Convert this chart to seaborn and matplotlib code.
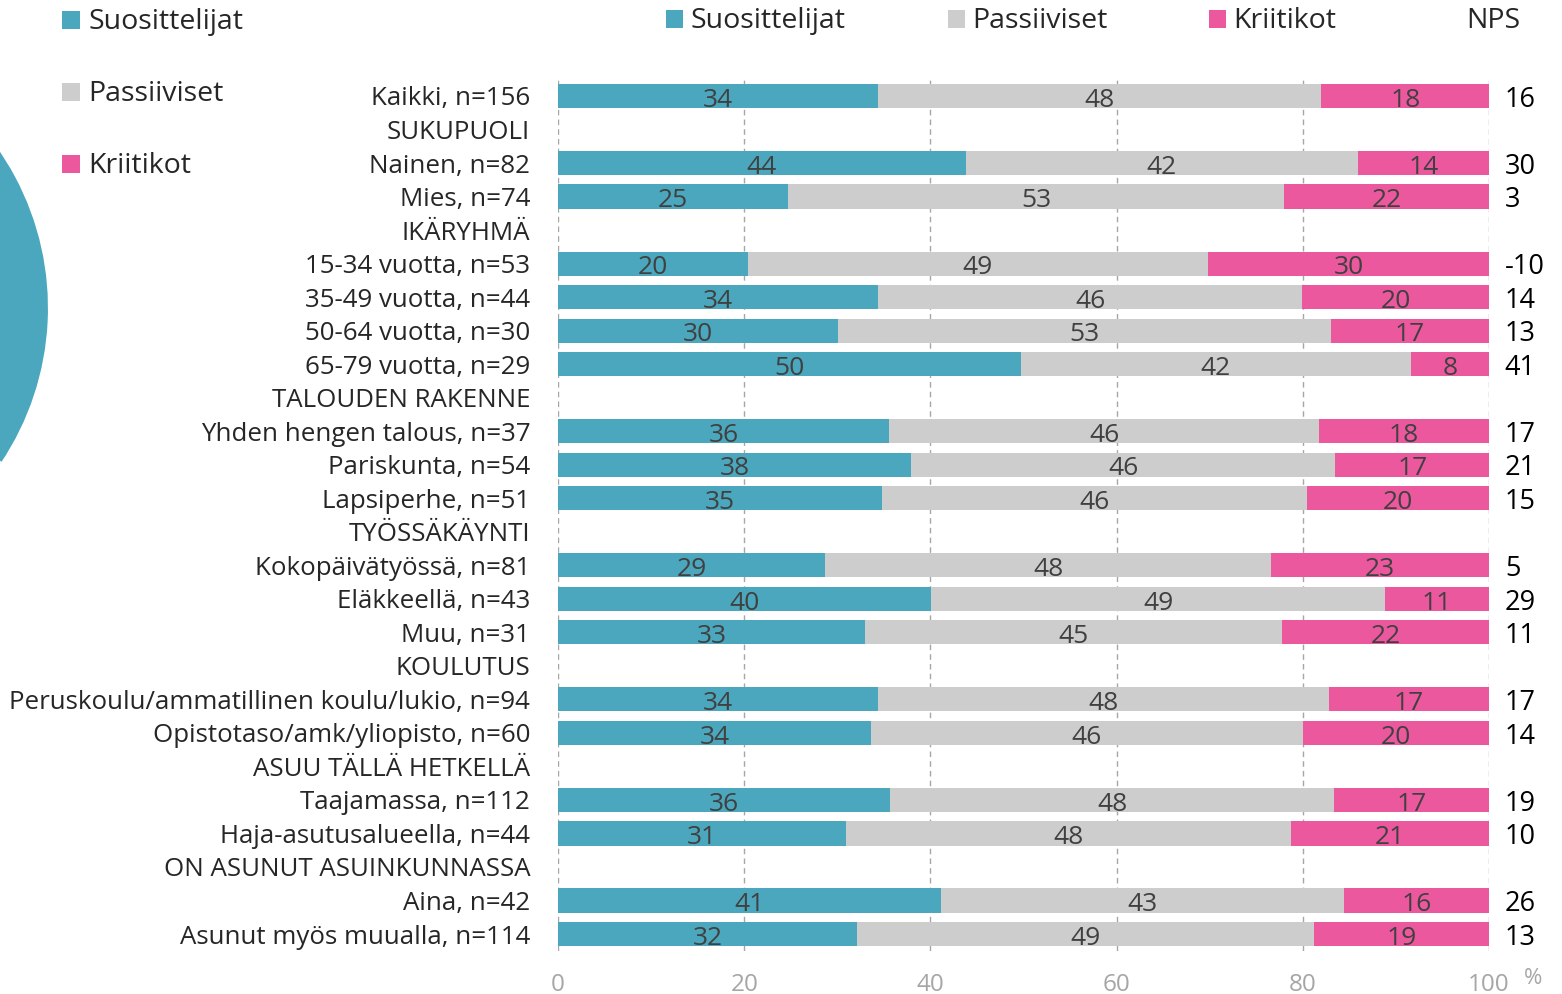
import numpy as np
import pandas as pd
import matplotlib
matplotlib.use("Agg")
import matplotlib.pyplot as plt
import seaborn as sns
from matplotlib.patches import Rectangle

# ---------------- data ----------------
row_labels = ["Kaikki, n=156", "SUKUPUOLI", "Nainen, n=82", "Mies, n=74", "IKÄRYHMÄ",
              "15-34 vuotta, n=53", "35-49 vuotta, n=44", "50-64 vuotta, n=30", "65-79 vuotta, n=29",
              "TALOUDEN RAKENNE", "Yhden hengen talous, n=37", "Pariskunta, n=54", "Lapsiperhe, n=51",
              "TYÖSSÄKÄYNTI", "Kokopäivätyössä, n=81", "Eläkkeellä, n=43", "Muu, n=31",
              "KOULUTUS", "Peruskoulu/ammatillinen koulu/lukio, n=94", "Opistotaso/amk/yliopisto, n=60",
              "ASUU TÄLLÄ HETKELLÄ", "Taajamassa, n=112", "Haja-asutusalueella, n=44",
              "ON ASUNUT ASUINKUNNASSA", "Aina, n=42", "Asunut myös muualla, n=114"]
N = np.nan
suosittelijat = [34.4, N, 43.8, 24.7, N, 20.4, 34.4, 30.1, 49.7, N, 35.6, 37.9, 34.8, N,
                 28.7, 40.1, 33.0, N, 34.4, 33.6, N, 35.7, 30.9, N, 41.1, 32.1]
passiiviset = [47.6, N, 42.1, 53.3, N, 49.4, 45.5, 52.9, 41.9, N, 46.1, 45.6, 45.7, N,
               47.9, 48.7, 44.8, N, 48.4, 46.4, N, 47.7, 47.8, N, 43.3, 49.1]
kriitikot = [18.0, N, 14.1, 22.0, N, 30.2, 20.1, 17.0, 8.4, N, 18.3, 16.5, 19.5, N,
             23.4, 11.2, 22.2, N, 17.2, 20.0, N, 16.6, 21.3, N, 15.6, 18.8]
lab_suos = [34, N, 44, 25, N, 20, 34, 30, 50, N, 36, 38, 35, N, 29, 40, 33, N, 34, 34, N, 36, 31, N, 41, 32]
lab_pass = [48, N, 42, 53, N, 49, 46, 53, 42, N, 46, 46, 46, N, 48, 49, 45, N, 48, 46, N, 48, 48, N, 43, 49]
lab_krit = [18, N, 14, 22, N, 30, 20, 17, 8, N, 18, 17, 20, N, 23, 11, 22, N, 17, 20, N, 17, 21, N, 16, 19]
nps = [16, N, 30, 3, N, -10, 14, 13, 41, N, 17, 21, 15, N, 5, 29, 11, N, 17, 14, N, 19, 10, N, 26, 13]
x_ticks = [0, 20, 40, 60, 80, 100]
series_names = ["Suosittelijat", "Passiiviset", "Kriitikot"]

TEAL = "#4BA7BD"
GREY = "#CDCDCD"
PINK = "#EC589E"
colors = [TEAL, GREY, PINK]

# ---------------- style ----------------
sns.set_theme(style="white")
plt.rcParams["font.family"] = ["Open Sans", "DejaVu Sans"]

W, H = 1562, 994
fig = plt.figure(figsize=(W / 100, H / 100), dpi=100)
ax = fig.add_axes([558 / W, 1 - 950.8 / H, 931 / W, (950.8 - 79.2) / H])

df = pd.DataFrame({"label": row_labels, "s": suosittelijat, "p": passiiviset, "k": kriitikot})
bars = df.dropna(subset=["s"]).copy()
bars["c1"] = bars["s"]
bars["c2"] = bars["s"] + bars["p"]
bars["c3"] = bars["s"] + bars["p"] + bars["k"]

for col, colr in [("c3", PINK), ("c2", GREY), ("c1", TEAL)]:
    sns.barplot(data=bars, x=col, y="label", order=row_labels, color=colr, saturation=1,
                width=0.72, orient="h", errorbar=None, linewidth=0, ax=ax, zorder=2)

ax.set_xlim(0, 100)
ax.set_ylim(len(row_labels) - 0.5, -0.5)
ax.set_xticks(x_ticks)
ax.set_xticklabels([str(t) for t in x_ticks])
ax.grid(axis="x", linestyle=(0, (4, 3)), color="#A6A6A6", linewidth=1, zorder=0)
ax.grid(axis="y", visible=False)
ax.set_axisbelow(True)
for sp in ax.spines.values():
    sp.set_visible(False)
ax.set_xlabel("")
ax.set_ylabel("")
ax.tick_params(axis="x", length=0, pad=16, labelsize=17.5, labelcolor="#A6A6A6")
ax.tick_params(axis="y", length=0, pad=20, labelsize=18.6, labelcolor="#262626")

# value labels
for i in range(len(row_labels)):
    if np.isnan(suosittelijat[i]):
        continue
    starts = [0, suosittelijat[i], suosittelijat[i] + passiiviset[i]]
    widths = [suosittelijat[i], passiiviset[i], kriitikot[i]]
    labs = [lab_suos[i], lab_pass[i], lab_krit[i]]
    for st, w, lb in zip(starts, widths, labs):
        ax.text(st + w / 2, i + 0.32, f"{int(lb)}", ha="center", va="baseline",
                fontsize=19, color="#404040", zorder=5)
    ax.text(101.7, i + 0.32, f"{int(nps[i])}", ha="left", va="baseline", fontsize=19.5,
            color="black", clip_on=False)

# ---------------- overlay (pie, legends) ----------------
ov = fig.add_axes([0, 0, 1, 1], zorder=3)
ov.patch.set_alpha(0)
ov.pie([suosittelijat[0], passiiviset[0], kriitikot[0]], colors=colors,
       center=(-230, H - 308), radius=279, startangle=90, counterclock=False,
       wedgeprops=dict(edgecolor="white", linewidth=1.5))
ov.set_xlim(0, W)
ov.set_ylim(0, H)
ov.set_aspect("auto")
ov.axis("off")

# left legend
for k, (name, c) in enumerate(zip(series_names, colors)):
    yc = 20 + k * 72
    ov.add_patch(Rectangle((62, H - yc - 9), 18, 18, color=c, lw=0))
    ov.text(88, H - yc - 2, name, ha="left", va="center", fontsize=20.5, color="#262626")

# top legend
for name, c, xs in zip(series_names, colors, [666, 948, 1209]):
    ov.add_patch(Rectangle((xs, H - 28), 17, 18, color=c, lw=0))
    ov.text(xs + 24, H - 21, name, ha="left", va="center", fontsize=20.5, color="#262626")
ov.text(1466, H - 21, "NPS", ha="left", va="center", fontsize=20.5, color="#262626")

# percent sign
ov.text(1524, H - 979, "%", ha="left", va="center", fontsize=16, color="#A6A6A6")

fig.savefig("out.png", dpi=100)
